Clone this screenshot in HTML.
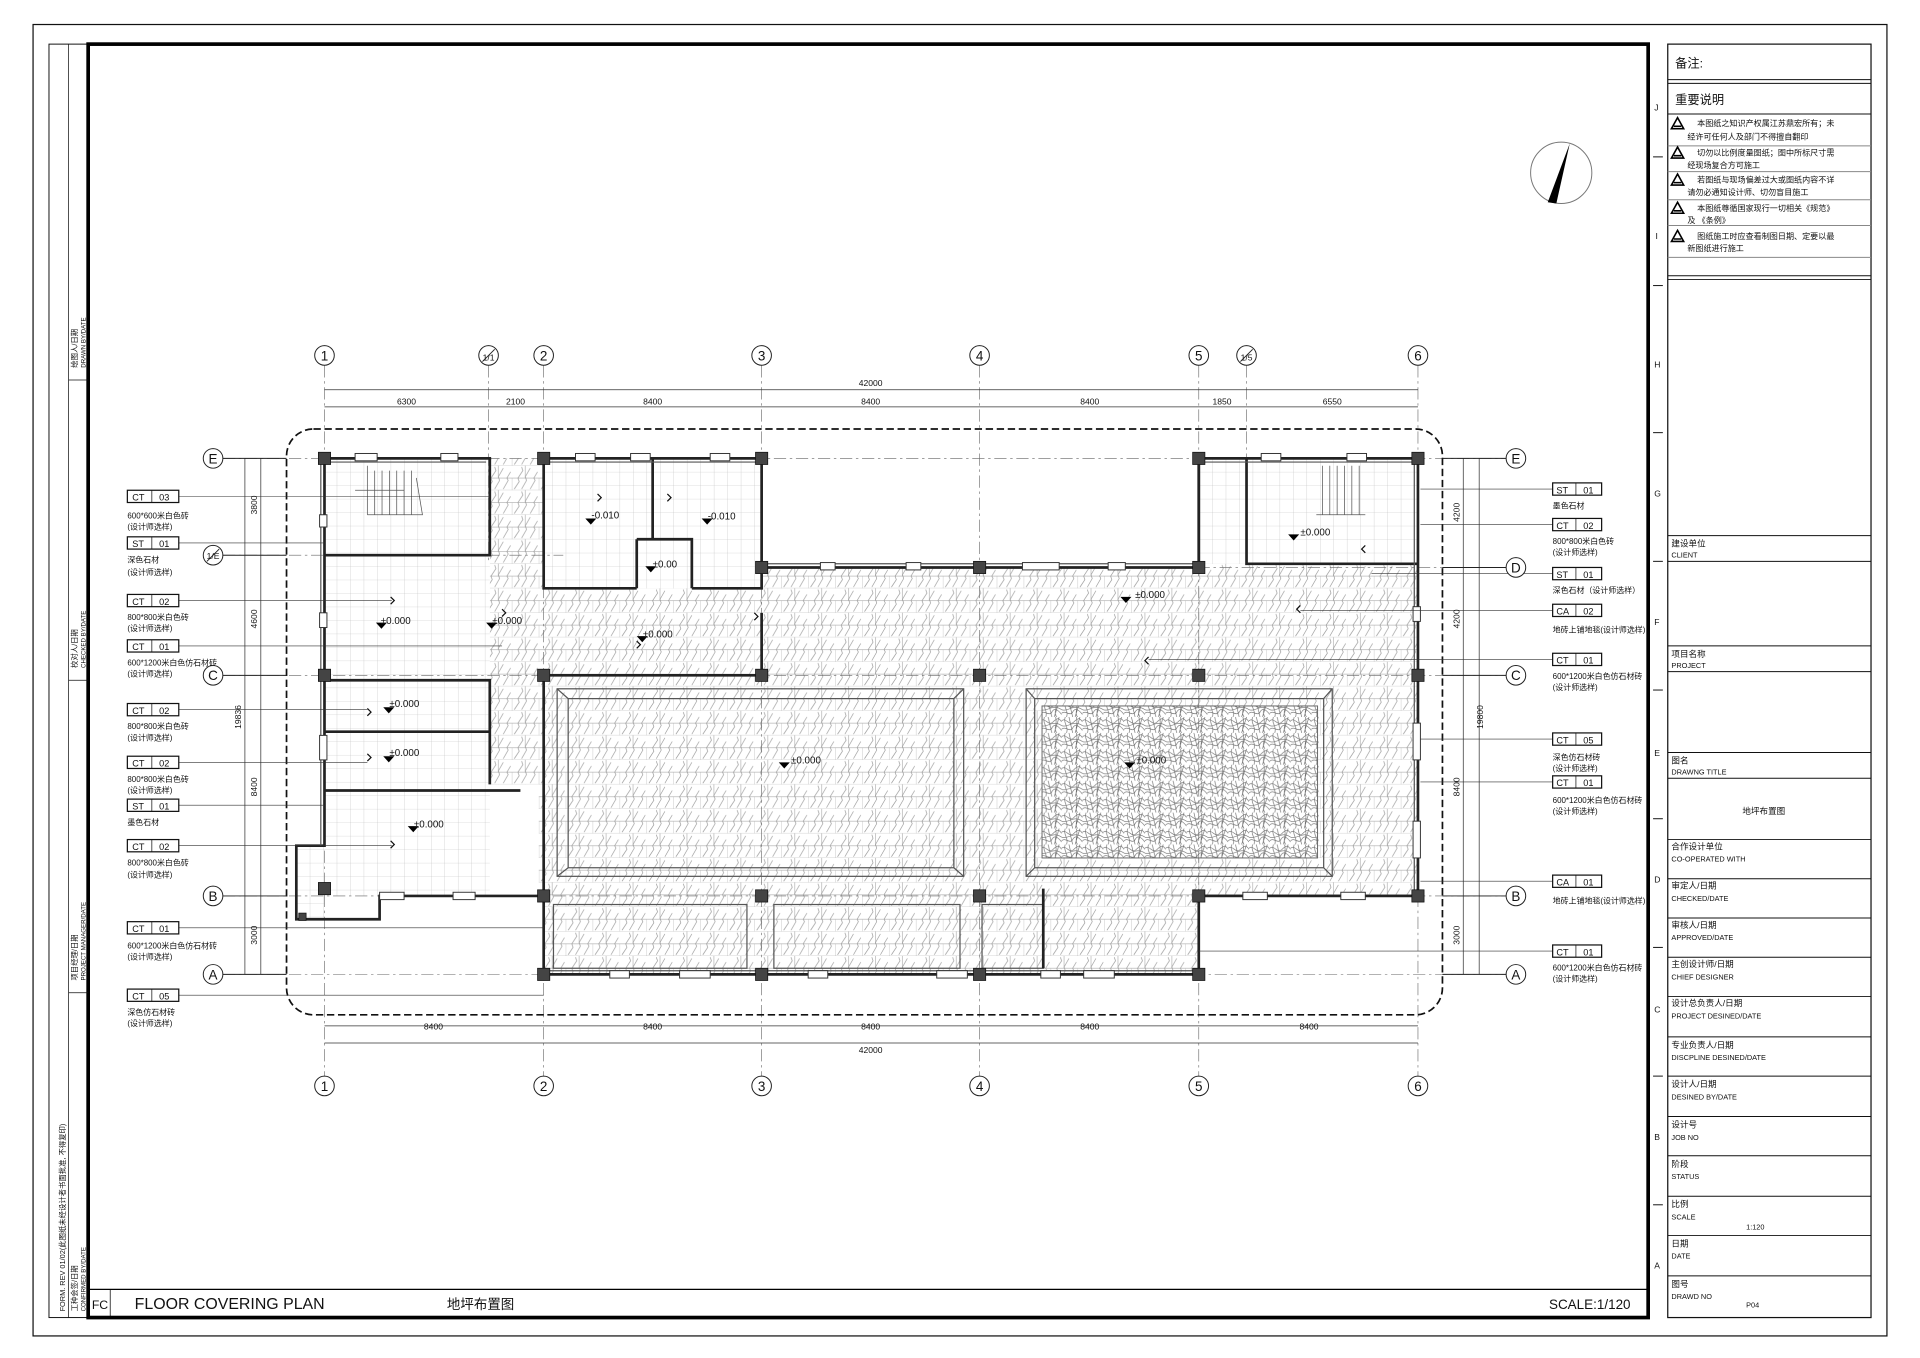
<!DOCTYPE html>
<html><head><meta charset="utf-8"><style>
html,body{margin:0;padding:0;background:#fff;}
svg{display:block;}
text{font-family:"Liberation Sans","Noto Sans CJK SC",sans-serif;fill:#111;}
.g{stroke:#666;stroke-width:.5;stroke-dasharray:10 3 2 3;fill:none;}
.w{stroke:#222;stroke-width:2.2;fill:none;}
.wl{stroke:#555;stroke-width:1;fill:none;}
.t{font-size:6.5px;}
.lb{fill:#fff;stroke:#111;stroke-width:1;}
</style></head><body>
<svg width="1920" height="1358" viewBox="0 0 1568 1108" preserveAspectRatio="none" xmlns="http://www.w3.org/2000/svg">
<defs>
<pattern id="stone" width="22" height="20" patternUnits="userSpaceOnUse">
<rect width="22" height="20" fill="#fff"/>
<path d="M0 10H22M0 20H22M11 0V10M0 10V20" stroke="#aaa" stroke-width=".5" fill="none"/>
<path d="M2 19 L6 13 L5 10 L9 4 L8 1 M8 19 L12 12 L11 9 L15 2 M15 19 L19 12 L18 10 L21 5" stroke="#999" stroke-width=".55" fill="none"/>
</pattern>
<pattern id="tile" width="11" height="11" patternUnits="userSpaceOnUse">
<rect width="11" height="11" fill="#fff"/>
<path d="M0 0H11M0 0V11" stroke="#c0c0c0" stroke-width=".5" fill="none"/>
</pattern>
<pattern id="carpet" width="17" height="13" patternUnits="userSpaceOnUse">
<rect width="17" height="13" fill="#fff"/>
<path d="M0 3 C4 0 6 8 10 4 S15 1 17 4 M0 10 C3 7 7 13 9 9 S14 7 17 11 M3 0 C1 5 6 8 4 13 M12 0 C14 6 10 9 13 13 M0 7 C6 9 9 2 17 7 M6 0 L9 13 M15 0 L11 13" stroke="#6a6a6a" stroke-width=".5" fill="none"/>
</pattern>
</defs>

<rect x="27" y="20" width="1514" height="1070" fill="none" stroke="#111" stroke-width="1"/>
<rect x="40" y="36" width="32" height="1039" fill="none" stroke="#111" stroke-width=".8"/>
<line x1="56" y1="36" x2="56" y2="1075" stroke="#111" stroke-width=".6"/>
<rect x="72" y="36" width="1274" height="1039" fill="none" stroke="#000" stroke-width="3"/>
<line x1="1346" y1="36" x2="1346" y2="1075" stroke="#000" stroke-width="1"/>
<g stroke="#111" stroke-width=".6"><line x1="56" y1="310" x2="72" y2="310"/><line x1="56" y1="555" x2="72" y2="555"/><line x1="56" y1="810" x2="72" y2="810"/></g>
<g font-size="6">
<text transform="translate(63,300) rotate(-90)">绘图人/日期</text><text transform="translate(70,300) rotate(-90)" font-size="5">DRAWN BY/DATE</text>
<text transform="translate(63,545) rotate(-90)">校对人/日期</text><text transform="translate(70,545) rotate(-90)" font-size="5">CHECKED BY/DATE</text>
<text transform="translate(63,800) rotate(-90)">项目经理/日期</text><text transform="translate(70,800) rotate(-90)" font-size="5">PROJECT MANAGER/DATE</text>
<text transform="translate(63,1070) rotate(-90)">工种会签/日期</text><text transform="translate(70,1070) rotate(-90)" font-size="5">CONFIRMED BY/DATE</text>
<text transform="translate(53,1070) rotate(-90)" font-size="6">FORM. REV 01/02(此图纸未经设计者书面批准, 不得复印)</text>
</g>

<line x1="72" y1="1052" x2="1346" y2="1052" stroke="#000" stroke-width="1"/>
<line x1="90" y1="1052" x2="90" y2="1075" stroke="#000" stroke-width=".6"/>
<text x="75" y="1068" font-size="10">FC</text>
<text x="110" y="1068" font-size="13">FLOOR COVERING PLAN</text>
<text x="365" y="1068" font-size="11">地坪布置图</text>
<text x="1265" y="1068" font-size="11">SCALE:1/120</text>

<g font-size="7">
<text x="1351" y="90">J</text><text x="1352" y="195">I</text><text x="1351" y="300">H</text><text x="1351" y="405">G</text><text x="1351" y="510">F</text><text x="1351" y="617">E</text><text x="1351" y="720">D</text><text x="1351" y="826">C</text><text x="1351" y="930">B</text><text x="1351" y="1035">A</text>
</g>
<g stroke="#111" stroke-width=".8"><line x1="1350" y1="128" x2="1358" y2="128"/><line x1="1350" y1="233" x2="1358" y2="233"/><line x1="1350" y1="353" x2="1358" y2="353"/><line x1="1350" y1="458" x2="1358" y2="458"/><line x1="1350" y1="563" x2="1358" y2="563"/><line x1="1350" y1="668" x2="1358" y2="668"/><line x1="1350" y1="773" x2="1358" y2="773"/><line x1="1350" y1="878" x2="1358" y2="878"/><line x1="1350" y1="983" x2="1358" y2="983"/></g>

<rect x="1362" y="36" width="166" height="1039" fill="none" stroke="#111" stroke-width="1"/>
<g stroke="#111" stroke-width=".8">
<line x1="1362" y1="65" x2="1528" y2="65"/><line x1="1362" y1="68" x2="1528" y2="68"/>
<line x1="1362" y1="93" x2="1528" y2="93"/>
<line x1="1362" y1="119" x2="1528" y2="119" stroke="#888"/><line x1="1362" y1="140" x2="1528" y2="140" stroke="#888"/><line x1="1362" y1="163" x2="1528" y2="163" stroke="#888"/><line x1="1362" y1="184" x2="1528" y2="184" stroke="#888"/><line x1="1362" y1="210" x2="1528" y2="210" stroke="#888"/>
<line x1="1362" y1="225" x2="1528" y2="225"/><line x1="1362" y1="228" x2="1528" y2="228"/>
<line x1="1362" y1="437" x2="1528" y2="437"/><line x1="1362" y1="458" x2="1528" y2="458"/>
<line x1="1362" y1="527" x2="1528" y2="527"/><line x1="1362" y1="548" x2="1528" y2="548"/>
<line x1="1362" y1="614" x2="1528" y2="614"/><line x1="1362" y1="635" x2="1528" y2="635"/>
<line x1="1362" y1="685" x2="1528" y2="685"/><line x1="1362" y1="717" x2="1528" y2="717"/><line x1="1362" y1="749" x2="1528" y2="749"/><line x1="1362" y1="781" x2="1528" y2="781"/><line x1="1362" y1="813" x2="1528" y2="813"/><line x1="1362" y1="846" x2="1528" y2="846"/><line x1="1362" y1="878" x2="1528" y2="878"/><line x1="1362" y1="911" x2="1528" y2="911"/><line x1="1362" y1="943" x2="1528" y2="943"/><line x1="1362" y1="976" x2="1528" y2="976"/><line x1="1362" y1="1008" x2="1528" y2="1008"/><line x1="1362" y1="1041" x2="1528" y2="1041"/>
</g>
<text x="1368" y="55" font-size="10">备注:</text>
<text x="1368" y="85" font-size="10">重要说明</text>
<g font-size="6.6">
<path d="M1365 105 l5 -9 l5 9 z M1367 103 h6" fill="none" stroke="#000" stroke-width="1.3"/><text x="1386" y="103">本图纸之知识产权属江苏鼎宏所有；未</text><text x="1378" y="114">经许可任何人及部门不得擅自翻印</text>
<path d="M1365 129 l5 -9 l5 9 z M1367 127 h6" fill="none" stroke="#000" stroke-width="1.3"/><text x="1386" y="127">切勿以比例度量图纸；图中所标尺寸需</text><text x="1378" y="137">经现场复合方可施工</text>
<path d="M1365 151 l5 -9 l5 9 z M1367 149 h6" fill="none" stroke="#000" stroke-width="1.3"/><text x="1386" y="149">若图纸与现场偏差过大或图纸内容不详</text><text x="1378" y="159">请勿必通知设计师、切勿盲目施工</text>
<path d="M1365 174 l5 -9 l5 9 z M1367 172 h6" fill="none" stroke="#000" stroke-width="1.3"/><text x="1386" y="172">本图纸尊循国家现行一切相关《规范》</text><text x="1378" y="182">及 《条例》</text>
<path d="M1365 197 l5 -9 l5 9 z M1367 195 h6" fill="none" stroke="#000" stroke-width="1.3"/><text x="1386" y="195">图纸施工时应查看制图日期、定要以最</text><text x="1378" y="205">新图纸进行施工</text>
</g>
<g font-size="7">
<text x="1365" y="446">建设单位</text><text x="1365" y="455" font-size="6">CLIENT</text>
<text x="1365" y="536">项目名称</text><text x="1365" y="545" font-size="6">PROJECT</text>
<text x="1365" y="623">图名</text><text x="1365" y="632" font-size="6">DRAWNG TITLE</text>
<text x="1423" y="664">地坪布置图</text>
<text x="1365" y="693">合作设计单位</text><text x="1365" y="703" font-size="6">CO-OPERATED WITH</text>
<text x="1365" y="725">审定人/日期</text><text x="1365" y="735" font-size="6">CHECKED/DATE</text>
<text x="1365" y="757">审核人/日期</text><text x="1365" y="767" font-size="6">APPROVED/DATE</text>
<text x="1365" y="789">主创设计师/日期</text><text x="1365" y="799" font-size="6">CHIEF DESIGNER</text>
<text x="1365" y="821">设计总负责人/日期</text><text x="1365" y="831" font-size="6">PROJECT DESINED/DATE</text>
<text x="1365" y="855">专业负责人/日期</text><text x="1365" y="865" font-size="6">DISCPLINE DESINED/DATE</text>
<text x="1365" y="887">设计人/日期</text><text x="1365" y="897" font-size="6">DESINED BY/DATE</text>
<text x="1365" y="920">设计号</text><text x="1365" y="930" font-size="6">JOB NO</text>
<text x="1365" y="952">阶段</text><text x="1365" y="962" font-size="6">STATUS</text>
<text x="1365" y="985">比例</text><text x="1365" y="995" font-size="6">SCALE</text><text x="1426" y="1003" font-size="6">1:120</text>
<text x="1365" y="1017">日期</text><text x="1365" y="1027" font-size="6">DATE</text>
<text x="1365" y="1050">图号</text><text x="1365" y="1060" font-size="6">DRAWD NO</text><text x="1426" y="1067" font-size="6">P04</text>
</g>

<circle cx="1275" cy="141" r="25" fill="none" stroke="#777" stroke-width=".8"/>
<path d="M1282 117 L1264 165 L1271 166 Z" fill="#000"/>

<path d="M400 374 H622 V463 H979 V374 H1158 V731 H979 V795 H444 V731 H440 V640 H400 Z" fill="url(#stone)"/>
<rect x="265" y="374" width="135" height="357" fill="url(#tile)"/>
<rect x="242" y="690" width="23" height="60" fill="url(#tile)"/>
<rect x="444" y="374" width="178" height="106" fill="url(#tile)"/>
<rect x="1018" y="374" width="140" height="86" fill="url(#tile)"/>
<rect x="979" y="374" width="39" height="86" fill="url(#tile)"/>

<g fill="none" stroke="#555" stroke-width="1">
<rect x="455" y="562" width="332" height="153"/><rect x="464" y="570" width="315" height="138"/>
<line x1="455" y1="562" x2="464" y2="570"/><line x1="787" y1="562" x2="779" y2="570"/><line x1="455" y1="715" x2="464" y2="708"/><line x1="787" y1="715" x2="779" y2="708"/>
<rect x="838" y="562" width="250" height="153"/><rect x="845" y="570" width="236" height="138"/>
<line x1="838" y1="562" x2="845" y2="570"/><line x1="1088" y1="562" x2="1081" y2="570"/><line x1="838" y1="715" x2="845" y2="708"/><line x1="1088" y1="715" x2="1081" y2="708"/>
<rect x="452" y="738" width="158" height="52"/><rect x="632" y="738" width="152" height="52"/><rect x="802" y="738" width="50" height="52"/>
</g>
<rect x="851" y="576" width="225" height="124" fill="url(#carpet)" stroke="#666" stroke-width=".8"/>

<g class="g">
<line x1="265" y1="298" x2="265" y2="878"/><line x1="399" y1="298" x2="399" y2="460"/><line x1="444" y1="298" x2="444" y2="878"/><line x1="622" y1="298" x2="622" y2="878"/><line x1="800" y1="298" x2="800" y2="878"/><line x1="979" y1="298" x2="979" y2="878"/><line x1="1018" y1="298" x2="1018" y2="460"/><line x1="1158" y1="298" x2="1158" y2="878"/>
<line x1="182" y1="374" x2="1230" y2="374"/><line x1="182" y1="453" x2="460" y2="453"/><line x1="960" y1="463" x2="1230" y2="463"/><line x1="182" y1="551" x2="1230" y2="551"/><line x1="182" y1="731" x2="1230" y2="731"/><line x1="182" y1="795" x2="1230" y2="795"/>
</g>

<g class="w">
<path d="M265 374 H400 V453 H265"/>
<path d="M265 374 V690 H242 V750 H310 V731 H440"/>
<path d="M444 374 H622 V463 H979 V374 H1158 V731 H979 V795 H444 V731"/>
<path d="M444 374 V480 H520 M565 480 H622 V463"/>
<path d="M533 374 V440 M520 440 H565 V480 M520 440 V480"/>
<path d="M1018 374 V460 H1158"/>
<path d="M265 555 H400 V640 M265 597 H400 M265 645 H425"/>
<path d="M444 551 H622 V500 M444 551 V731"/>
<path d="M852 725 V790"/>
<path d="M979 374 V460"/>
</g>
<g class="wl">
<line x1="268" y1="377" x2="397" y2="377"/><line x1="447" y1="377" x2="619" y2="377"/><line x1="982" y1="377" x2="1155" y2="377"/><line x1="625" y1="460" x2="976" y2="460"/><line x1="447" y1="792" x2="976" y2="792"/><line x1="1155" y1="377" x2="1155" y2="728"/><line x1="262" y1="377" x2="262" y2="690"/>
</g>
<g fill="#fff" stroke="#333" stroke-width=".8">
<rect x="290" y="370" width="18" height="6"/><rect x="360" y="370" width="14" height="6"/><rect x="470" y="370" width="16" height="6"/><rect x="515" y="370" width="16" height="6"/><rect x="580" y="370" width="16" height="6"/>
<rect x="1030" y="370" width="16" height="6"/><rect x="1100" y="370" width="16" height="6"/>
<rect x="670" y="459" width="12" height="6"/><rect x="740" y="459" width="12" height="6"/><rect x="835" y="459" width="30" height="6"/><rect x="905" y="459" width="14" height="6"/>
<rect x="1154" y="495" width="6" height="12"/><rect x="1154" y="590" width="6" height="30"/><rect x="1154" y="670" width="6" height="30"/>
<rect x="1015" y="728" width="20" height="6"/><rect x="1095" y="728" width="20" height="6"/>
<rect x="370" y="728" width="18" height="6"/><rect x="310" y="728" width="20" height="6"/>
<rect x="498" y="792" width="16" height="6"/><rect x="555" y="792" width="25" height="6"/><rect x="660" y="792" width="16" height="6"/><rect x="765" y="792" width="25" height="6"/><rect x="850" y="792" width="16" height="6"/><rect x="885" y="792" width="25" height="6"/>
<rect x="261" y="420" width="6" height="10"/><rect x="261" y="500" width="6" height="12"/><rect x="261" y="600" width="6" height="20"/>
</g>
<g fill="#444" stroke="#111" stroke-width=".6">
<rect x="260" y="369" width="10" height="10"/><rect x="439" y="369" width="10" height="10"/><rect x="617" y="369" width="10" height="10"/><rect x="974" y="369" width="10" height="10"/><rect x="1153" y="369" width="10" height="10"/>
<rect x="617" y="458" width="10" height="10"/><rect x="795" y="458" width="10" height="10"/><rect x="974" y="458" width="10" height="10"/>
<rect x="260" y="546" width="10" height="10"/><rect x="439" y="546" width="10" height="10"/><rect x="617" y="546" width="10" height="10"/><rect x="795" y="546" width="10" height="10"/><rect x="974" y="546" width="10" height="10"/><rect x="1153" y="546" width="10" height="10"/>
<rect x="260" y="720" width="10" height="10"/><rect x="439" y="726" width="10" height="10"/><rect x="617" y="726" width="10" height="10"/><rect x="795" y="726" width="10" height="10"/><rect x="974" y="726" width="10" height="10"/><rect x="1153" y="726" width="10" height="10"/>
<rect x="439" y="790" width="10" height="10"/><rect x="617" y="790" width="10" height="10"/><rect x="795" y="790" width="10" height="10"/><rect x="974" y="790" width="10" height="10"/>
<rect x="244" y="745" width="6" height="6"/>
</g>

<rect x="234" y="350" width="944" height="478" rx="22" fill="none" stroke="#111" stroke-width="1.4" stroke-dasharray="6 3"/>

<g stroke="#555" stroke-width=".6" fill="none"><path d="M300 380 V420 M306 384 V420 M312 384 V420 M318 384 V420 M324 384 V420 M330 384 V420 M336 384 V420 M340 390 L345 420 H300"/><line x1="290" y1="400" x2="330" y2="400"/></g>
<g stroke="#555" stroke-width=".6" fill="none"><path d="M1080 380 V420 M1086 380 V420 M1092 380 V420 M1098 380 V420 M1104 380 V420 M1110 380 V420 M1075 420 H1115"/></g>

<g font-size="8">
<g><path d="M307 508 h9 l-4.5 5z"/><text x="311" y="509">±0.000</text></g>
<g><path d="M397 508 h9 l-4.5 5z"/><text x="402" y="509">±0.000</text></g>
<g><path d="M520 519 h9 l-4.5 5z"/><text x="525" y="520">±0.000</text></g>
<g><path d="M313 577 h9 l-4.5 5z"/><text x="318" y="577">±0.000</text></g>
<g><path d="M313 617 h9 l-4.5 5z"/><text x="318" y="617">±0.000</text></g>
<g><path d="M333 674 h9 l-4.5 5z"/><text x="338" y="675">±0.000</text></g>
<g><path d="M478 423 h9 l-4.5 5z"/><text x="483" y="423">-0.010</text></g>
<g><path d="M573 423 h9 l-4.5 5z"/><text x="578" y="424">-0.010</text></g>
<g><path d="M527 462 h9 l-4.5 5z"/><text x="533" y="463">±0.00</text></g>
<g><path d="M1052 436 h9 l-4.5 5z"/><text x="1062" y="437">±0.000</text></g>
<g><path d="M915 487 h9 l-4.5 5z"/><text x="927" y="488">±0.000</text></g>
<g><path d="M636 622 h9 l-4.5 5z"/><text x="646" y="623">±0.000</text></g>
<g><path d="M918 622 h9 l-4.5 5z"/><text x="928" y="623">±0.000</text></g>
</g>
<g stroke="#111" stroke-width="1" fill="none">
<path d="M319 487 l3 3 -3 3 M410 497 l3 3 -3 3 M520 523 l3 3 -3 3 M488 403 l3 3 -3 3 M545 403 l3 3 -3 3 M300 578 l3 3 -3 3 M300 615 l3 3 -3 3 M319 686 l3 3 -3 3 M616 500 l3 3 -3 3 M938 536 l-3 3 3 3 M1062 494 l-3 3 3 3 M1115 445 l-3 3 3 3"/>
</g>
<g stroke="#333" stroke-width=".5">
<line x1="146" y1="405" x2="400" y2="405"/><line x1="146" y1="443" x2="265" y2="443"/><line x1="146" y1="490" x2="320" y2="490"/><line x1="146" y1="527" x2="410" y2="527"/><line x1="146" y1="579" x2="300" y2="579"/><line x1="146" y1="622" x2="300" y2="622"/><line x1="146" y1="657" x2="265" y2="657"/><line x1="146" y1="690" x2="320" y2="690"/><line x1="146" y1="757" x2="444" y2="757"/><line x1="146" y1="812" x2="444" y2="812"/>
<line x1="1268" y1="399" x2="1160" y2="399"/><line x1="1268" y1="428" x2="1160" y2="428"/><line x1="1268" y1="468" x2="1120" y2="468"/><line x1="1268" y1="498" x2="1062" y2="498"/><line x1="1268" y1="538" x2="938" y2="538"/><line x1="1268" y1="603" x2="1160" y2="603"/><line x1="1268" y1="638" x2="1160" y2="638"/><line x1="1268" y1="719" x2="1160" y2="719"/><line x1="1268" y1="776" x2="979" y2="776"/>
</g>

<g font-size="7.5">
<g transform="translate(104,400)"><rect class="lb" width="42" height="10"/><line x1="20" y1="0" x2="20" y2="10" stroke="#111" stroke-width=".6"/><text x="4" y="8.5">CT</text><text x="26" y="8.5">03</text></g>
<text x="104" y="423" class="t">600*600米白色砖</text><text x="104" y="432" class="t">(设计师选样)</text>
<g transform="translate(104,438)"><rect class="lb" width="42" height="10"/><line x1="20" y1="0" x2="20" y2="10" stroke="#111" stroke-width=".6"/><text x="4" y="8.5">ST</text><text x="26" y="8.5">01</text></g>
<text x="104" y="459" class="t">深色石材</text><text x="104" y="469" class="t">(设计师选样)</text>
<g transform="translate(104,485)"><rect class="lb" width="42" height="10"/><line x1="20" y1="0" x2="20" y2="10" stroke="#111" stroke-width=".6"/><text x="4" y="8.5">CT</text><text x="26" y="8.5">02</text></g>
<text x="104" y="506" class="t">800*800米白色砖</text><text x="104" y="515" class="t">(设计师选样)</text>
<g transform="translate(104,522)"><rect class="lb" width="42" height="10"/><line x1="20" y1="0" x2="20" y2="10" stroke="#111" stroke-width=".6"/><text x="4" y="8.5">CT</text><text x="26" y="8.5">01</text></g>
<text x="104" y="543" class="t">600*1200米白色仿石材砖</text><text x="104" y="552" class="t">(设计师选样)</text>
<g transform="translate(104,574)"><rect class="lb" width="42" height="10"/><line x1="20" y1="0" x2="20" y2="10" stroke="#111" stroke-width=".6"/><text x="4" y="8.5">CT</text><text x="26" y="8.5">02</text></g>
<text x="104" y="595" class="t">800*800米白色砖</text><text x="104" y="604" class="t">(设计师选样)</text>
<g transform="translate(104,617)"><rect class="lb" width="42" height="10"/><line x1="20" y1="0" x2="20" y2="10" stroke="#111" stroke-width=".6"/><text x="4" y="8.5">CT</text><text x="26" y="8.5">02</text></g>
<text x="104" y="638" class="t">800*800米白色砖</text><text x="104" y="647" class="t">(设计师选样)</text>
<g transform="translate(104,652)"><rect class="lb" width="42" height="10"/><line x1="20" y1="0" x2="20" y2="10" stroke="#111" stroke-width=".6"/><text x="4" y="8.5">ST</text><text x="26" y="8.5">01</text></g>
<text x="104" y="673" class="t">墨色石材</text>
<g transform="translate(104,685)"><rect class="lb" width="42" height="10"/><line x1="20" y1="0" x2="20" y2="10" stroke="#111" stroke-width=".6"/><text x="4" y="8.5">CT</text><text x="26" y="8.5">02</text></g>
<text x="104" y="706" class="t">800*800米白色砖</text><text x="104" y="716" class="t">(设计师选样)</text>
<g transform="translate(104,752)"><rect class="lb" width="42" height="10"/><line x1="20" y1="0" x2="20" y2="10" stroke="#111" stroke-width=".6"/><text x="4" y="8.5">CT</text><text x="26" y="8.5">01</text></g>
<text x="104" y="774" class="t">600*1200米白色仿石材砖</text><text x="104" y="783" class="t">(设计师选样)</text>
<g transform="translate(104,807)"><rect class="lb" width="42" height="10"/><line x1="20" y1="0" x2="20" y2="10" stroke="#111" stroke-width=".6"/><text x="4" y="8.5">CT</text><text x="26" y="8.5">05</text></g>
<text x="104" y="828" class="t">深色仿石材砖</text><text x="104" y="837" class="t">(设计师选样)</text>
</g>
<g font-size="7.5">
<g transform="translate(1268,394)"><rect class="lb" width="40" height="10"/><line x1="19" y1="0" x2="19" y2="10" stroke="#111" stroke-width=".6"/><text x="3" y="8.5">ST</text><text x="25" y="8.5">01</text></g>
<text x="1268" y="415" class="t">墨色石材</text>
<g transform="translate(1268,423)"><rect class="lb" width="40" height="10"/><line x1="19" y1="0" x2="19" y2="10" stroke="#111" stroke-width=".6"/><text x="3" y="8.5">CT</text><text x="25" y="8.5">02</text></g>
<text x="1268" y="444" class="t">800*800米白色砖</text><text x="1268" y="453" class="t">(设计师选样)</text>
<g transform="translate(1268,463)"><rect class="lb" width="40" height="10"/><line x1="19" y1="0" x2="19" y2="10" stroke="#111" stroke-width=".6"/><text x="3" y="8.5">ST</text><text x="25" y="8.5">01</text></g>
<text x="1268" y="484" class="t">深色石材（设计师选样）</text>
<g transform="translate(1268,493)"><rect class="lb" width="40" height="10"/><line x1="19" y1="0" x2="19" y2="10" stroke="#111" stroke-width=".6"/><text x="3" y="8.5">CA</text><text x="25" y="8.5">02</text></g>
<text x="1268" y="516" class="t">地砖上铺地毯(设计师选样)</text>
<g transform="translate(1268,533)"><rect class="lb" width="40" height="10"/><line x1="19" y1="0" x2="19" y2="10" stroke="#111" stroke-width=".6"/><text x="3" y="8.5">CT</text><text x="25" y="8.5">01</text></g>
<text x="1268" y="554" class="t">600*1200米白色仿石材砖</text><text x="1268" y="563" class="t">(设计师选样)</text>
<g transform="translate(1268,598)"><rect class="lb" width="40" height="10"/><line x1="19" y1="0" x2="19" y2="10" stroke="#111" stroke-width=".6"/><text x="3" y="8.5">CT</text><text x="25" y="8.5">05</text></g>
<text x="1268" y="620" class="t">深色仿石材砖</text><text x="1268" y="629" class="t">(设计师选样)</text>
<g transform="translate(1268,633)"><rect class="lb" width="40" height="10"/><line x1="19" y1="0" x2="19" y2="10" stroke="#111" stroke-width=".6"/><text x="3" y="8.5">CT</text><text x="25" y="8.5">01</text></g>
<text x="1268" y="655" class="t">600*1200米白色仿石材砖</text><text x="1268" y="664" class="t">(设计师选样)</text>
<g transform="translate(1268,714)"><rect class="lb" width="40" height="10"/><line x1="19" y1="0" x2="19" y2="10" stroke="#111" stroke-width=".6"/><text x="3" y="8.5">CA</text><text x="25" y="8.5">01</text></g>
<text x="1268" y="737" class="t">地砖上铺地毯(设计师选样)</text>
<g transform="translate(1268,771)"><rect class="lb" width="40" height="10"/><line x1="19" y1="0" x2="19" y2="10" stroke="#111" stroke-width=".6"/><text x="3" y="8.5">CT</text><text x="25" y="8.5">01</text></g>
<text x="1268" y="792" class="t">600*1200米白色仿石材砖</text><text x="1268" y="801" class="t">(设计师选样)</text>
</g>

<g stroke="#333" stroke-width=".6">
<line x1="265" y1="318" x2="1158" y2="318"/><line x1="265" y1="332" x2="1158" y2="332"/>
<line x1="265" y1="837" x2="1158" y2="837"/><line x1="265" y1="851" x2="1158" y2="851"/>
<line x1="200" y1="374" x2="200" y2="795"/><line x1="213" y1="374" x2="213" y2="795"/>
<line x1="1208" y1="374" x2="1208" y2="795"/><line x1="1195" y1="374" x2="1195" y2="795"/>
</g>
<g font-size="7" text-anchor="middle">
<text x="711" y="315">42000</text>
<text x="332" y="330">6300</text><text x="421" y="330">2100</text><text x="533" y="330">8400</text><text x="711" y="330">8400</text><text x="890" y="330">8400</text><text x="998" y="330">1850</text><text x="1088" y="330">6550</text>
<text x="354" y="840">8400</text><text x="533" y="840">8400</text><text x="711" y="840">8400</text><text x="890" y="840">8400</text><text x="1069" y="840">8400</text>
<text x="711" y="859">42000</text>
<text transform="translate(210,412) rotate(-90)">3800</text><text transform="translate(210,505) rotate(-90)">4600</text><text transform="translate(210,642) rotate(-90)">8400</text><text transform="translate(210,763) rotate(-90)">3000</text><text transform="translate(197,585) rotate(-90)">19836</text>
<text transform="translate(1192,418) rotate(-90)">4200</text><text transform="translate(1192,505) rotate(-90)">4200</text><text transform="translate(1192,642) rotate(-90)">8400</text><text transform="translate(1192,763) rotate(-90)">3000</text><text transform="translate(1211,585) rotate(-90)">19800</text>
</g>

<g fill="#fff" stroke="#222" stroke-width=".8">
<circle cx="265" cy="290" r="8"/><circle cx="399" cy="290" r="8"/><circle cx="444" cy="290" r="8"/><circle cx="622" cy="290" r="8"/><circle cx="800" cy="290" r="8"/><circle cx="979" cy="290" r="8"/><circle cx="1018" cy="290" r="8"/><circle cx="1158" cy="290" r="8"/>
<circle cx="265" cy="886" r="8"/><circle cx="444" cy="886" r="8"/><circle cx="622" cy="886" r="8"/><circle cx="800" cy="886" r="8"/><circle cx="979" cy="886" r="8"/><circle cx="1158" cy="886" r="8"/>
<circle cx="174" cy="374" r="8"/><circle cx="174" cy="453" r="8"/><circle cx="174" cy="551" r="8"/><circle cx="174" cy="731" r="8"/><circle cx="174" cy="795" r="8"/>
<circle cx="1238" cy="374" r="8"/><circle cx="1238" cy="463" r="8"/><circle cx="1238" cy="551" r="8"/><circle cx="1238" cy="731" r="8"/><circle cx="1238" cy="795" r="8"/>
</g>
<g stroke="#222" stroke-width=".8"><line x1="182" y1="374" x2="234" y2="374"/><line x1="182" y1="453" x2="234" y2="453"/><line x1="182" y1="551" x2="234" y2="551"/><line x1="182" y1="731" x2="234" y2="731"/><line x1="182" y1="795" x2="234" y2="795"/><line x1="1178" y1="374" x2="1230" y2="374"/><line x1="1178" y1="463" x2="1230" y2="463"/><line x1="1178" y1="551" x2="1230" y2="551"/><line x1="1178" y1="731" x2="1230" y2="731"/><line x1="1178" y1="795" x2="1230" y2="795"/>
<line x1="394" y1="295" x2="404" y2="285"/><line x1="1013" y1="295" x2="1023" y2="285"/><line x1="169" y1="458" x2="179" y2="448"/></g>
<g font-size="11" text-anchor="middle" style="font-family:'Liberation Serif',serif">
<text x="265" y="294">1</text><text x="399" y="294" font-size="7">1/1</text><text x="444" y="294">2</text><text x="622" y="294">3</text><text x="800" y="294">4</text><text x="979" y="294">5</text><text x="1018" y="294" font-size="7">1/5</text><text x="1158" y="294">6</text>
<text x="265" y="890">1</text><text x="444" y="890">2</text><text x="622" y="890">3</text><text x="800" y="890">4</text><text x="979" y="890">5</text><text x="1158" y="890">6</text>
<text x="174" y="378">E</text><text x="174" y="456" font-size="7">1/E</text><text x="174" y="555">C</text><text x="174" y="735">B</text><text x="174" y="799">A</text>
<text x="1238" y="378">E</text><text x="1238" y="467">D</text><text x="1238" y="555">C</text><text x="1238" y="735">B</text><text x="1238" y="799">A</text>
</g>
</svg>
</body></html>
